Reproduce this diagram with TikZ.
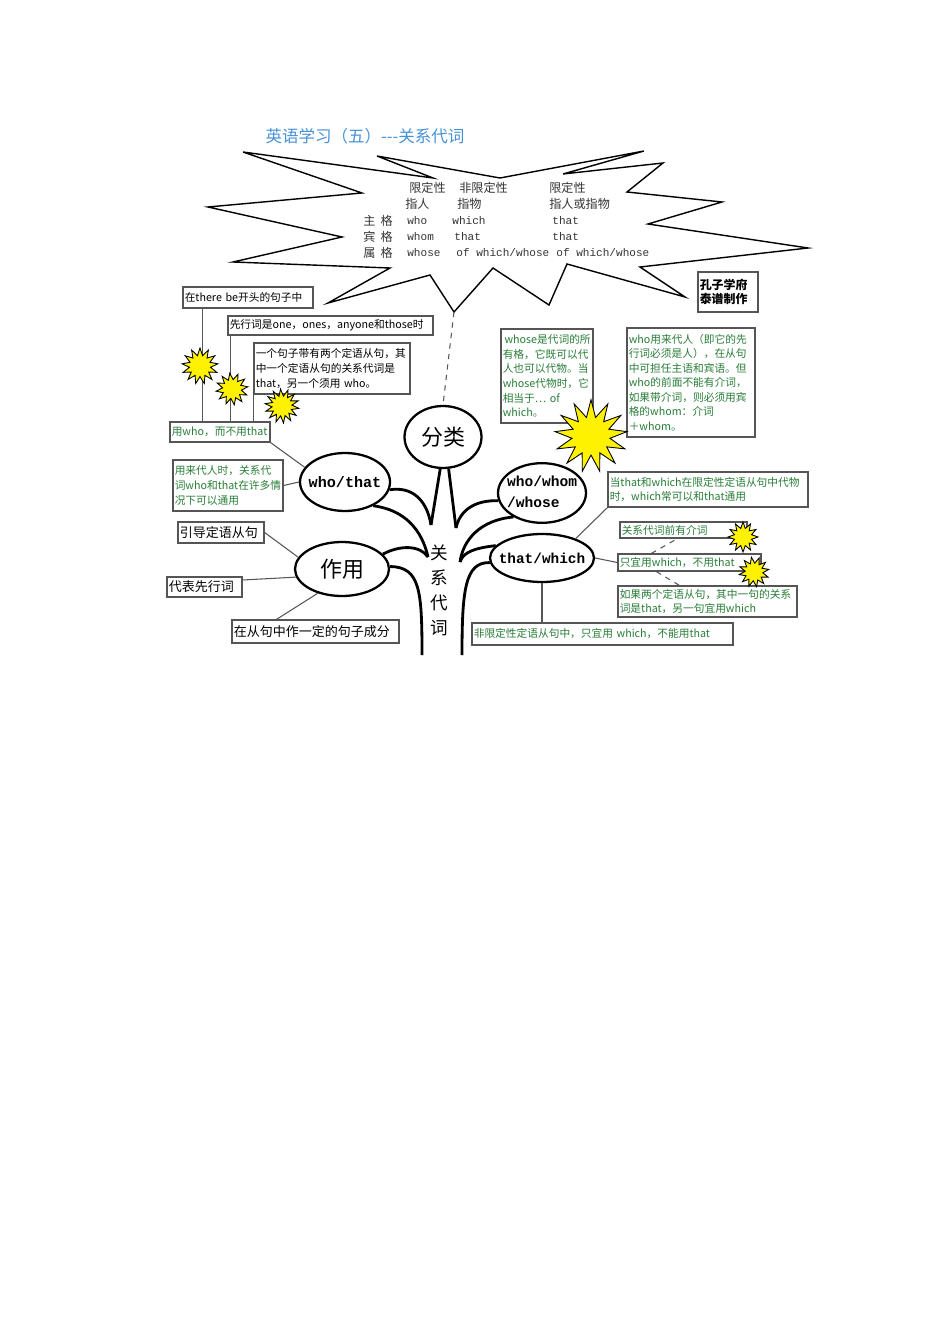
\documentclass[tikz,border=0pt]{standalone}
\usepackage{fontspec}
\setmainfont{Noto Sans CJK SC}
\setmonofont{Liberation Mono}
\usetikzlibrary{shapes.geometric, positioning}
\definecolor{notegreen}{RGB}{40,125,55}
\definecolor{titleblue}{RGB}{70,145,215}
\definecolor{boxgray}{RGB}{85,85,85}
\tikzstyle{note} = [rectangle, draw=boxgray, line width=0.7pt, fill=white, inner sep=1pt, align=left, font=\fontsize{6.1}{8.3}\selectfont]
\tikzstyle{greennote} = [note, text=notegreen]
\tikzstyle{bignote} = [note, font=\fontsize{7.4}{9}\selectfont]
\tikzstyle{bubble} = [ellipse, draw=black, line width=1.3pt, fill=white, inner sep=0pt]
\tikzstyle{codeword} = [bubble, font=\ttfamily\bfseries\fontsize{8.6}{10.5}\selectfont]
\tikzstyle{spark} = [star, star point ratio=1.7, draw=black, line width=0.5pt, fill=yellow, inner sep=0pt]
\tikzstyle{branch} = [line width=1.6pt]
\tikzstyle{link} = [draw=boxgray, line width=0.6pt]
\tikzstyle{cell} = [anchor=west, inner sep=0pt, text=black!80, font=\fontsize{6.9}{8}\selectfont]
\tikzstyle{monocell} = [cell, font=\ttfamily\fontsize{6.3}{8}\selectfont]
\newcommand{\slimtext}[1]{\makebox[0pt]{#1}}

\begin{document}
\begin{tikzpicture}[x=0.02cm, y=-0.02cm]
    \useasboundingbox (0,0) rectangle (950,1344);

    \node[font=\fontsize{9.4}{11}\selectfont, text=titleblue] (title) at (365,136) {英语学习（五）-{}-{}-关系代词};

    % the starburst table
    \draw[line width=0.8pt] (243,152) -- (433,178) -- (377,156) -- (500,178) -- (644,151) -- (563,174) -- (663,163)
        -- (627,192) -- (722,202) -- (648,224) -- (808,248) -- (640,267) -- (685,297) -- (567,264) -- (549,305)
        -- (493,268) -- (454,312) -- (430,275) -- (328,303) -- (390,268) -- (233,262) -- (342,237) -- (208,207)
        -- (362,193) -- cycle;
    \coordinate (burstTip) at (454,312);
    \node[cell] (headA) at (409,188) {限定性};
    \node[cell] (headB) at (459,188) {非限定性};
    \node[cell] (headC) at (549,188) {限定性};
    \node[cell] (kindA) at (405,204) {指人};
    \node[cell] (kindB) at (457,204) {指物};
    \node[cell] (kindC) at (549,204) {指人或指物};
    \node[cell] (caseSubj) at (363,221) {主\hspace{3pt}格};
    \node[monocell] (subjA) at (407,221) {who};
    \node[monocell] (subjB) at (452,221) {which};
    \node[monocell] (subjC) at (552,221) {that};
    \node[cell] (caseObj) at (363,237) {宾\hspace{3pt}格};
    \node[monocell] (objA) at (407,237) {whom};
    \node[monocell] (objB) at (454,237) {that};
    \node[monocell] (objC) at (552,237) {that};
    \node[cell] (casePoss) at (363,253) {属\hspace{3pt}格};
    \node[monocell] (possA) at (407,253) {whose};
    \node[monocell] (possB) at (456,253) {of which/whose};
    \node[monocell] (possC) at (556,253) {of which/whose};
    \node[note, font=\bfseries\fontsize{6.8}{7.6}\selectfont, text width=1.13cm, minimum height=0.8cm] (credit) at (728,292) {孔子学府\\泰谱制作};

    % left notes
    \node[note, text width=2.53cm, minimum height=0.42cm] (boxA) at (248,297.5) {在there be开头的句子中};
    \node[note, text width=4.03cm, minimum height=0.38cm] (boxB) at (330.5,325.5) {先行词是one，ones，anyone和those时};
    \node[note, text width=3.05cm, minimum height=1.02cm] (boxC) at (332,368.5) {一个句子带有两个定语从句，其\\中一个定语从句的关系代词是\\that，另一个须用 who。};
    \node[greennote, text width=1.93cm, minimum height=0.4cm] (boxD) at (220,432) {用who，而不用that};
    \node[greennote, text width=2.13cm, minimum height=1.02cm] (boxE) at (228,485.5) {用来代人时，关系代\\词who和that在许多情\\况下可以通用};
    \node[bignote, text width=1.65cm, minimum height=0.42cm] (boxF) at (221,532.5) {引导定语从句};
    \node[bignote, text width=1.43cm, minimum height=0.4cm] (boxG) at (204.5,587) {代表先行词};
    \node[bignote, text width=3.27cm, minimum height=0.46cm] (boxH) at (315.5,631.5) {在从句中作一定的句子成分};

    % right notes
    \node[greennote, text width=1.77cm, minimum height=1.88cm] (boxI) at (547,376) {\,whose是代词的所\\有格，它既可以代\\人也可以代物。当\\whose代物时，它\\相当于… of\\which。};
    \node[greennote, text width=2.49cm, minimum height=2.18cm] (boxJ) at (691,382.5) {who用来代人（即它的先\\行词必须是人），在从句\\中可担任主语和宾语。但\\who的前面不能有介词，\\如果带介词，则必须用宾\\格的whom：介词\\＋whom。};
    \node[greennote, text width=3.93cm, minimum height=0.7cm] (boxK) at (708,489.5) {当that和which在限定性定语从句中代物\\时，which常可以和that通用};
    \node[greennote, text width=2.47cm, minimum height=0.32cm] (boxL) at (683.5,530) {关系代词前有介词};
    \node[greennote, text width=2.79cm, minimum height=0.34cm] (boxM) at (689.5,562.5) {只宜用which，不用that};
    \node[greennote, text width=3.51cm, minimum height=0.62cm] (boxN) at (707.5,601.5) {如果两个定语从句，其中一句的关系\\词是that，另一句宜用which};
    \node[greennote, text width=5.15cm, minimum height=0.44cm] (boxO) at (602.5,634) {非限定性定语从句中，只宜用 which，不能用that};

    % ellipses
    \node[bubble, minimum width=1.54cm, minimum height=1.24cm, font=\fontsize{12.5}{14}\selectfont] (fenlei) at (443,437) {分类};
    \node[codeword, minimum width=1.8cm, minimum height=1.16cm] (whothat) at (345,482) {\slimtext{who/that}};
    \node[bubble, minimum width=1.88cm, minimum height=1.08cm, font=\fontsize{12.5}{14}\selectfont] (zuoyong) at (342,569) {作用};
    \node[codeword, minimum width=1.76cm, minimum height=1.16cm, font=\ttfamily\bfseries\fontsize{8.3}{12}\selectfont] (whowhom) at (542,493) {\slimtext{\begin{tabular}{@{}l@{}}who/whom\\/whose\end{tabular}}};
    \node[codeword, minimum width=2.08cm, minimum height=0.96cm, font=\ttfamily\bfseries\fontsize{8.2}{10}\selectfont] (thatwhich) at (542,558) {\slimtext{that/which}};
    \node[font=\fontsize{10}{14.2}\selectfont, align=center] (trunkword) at (439,590) {关\\系\\代\\词};

    % thin connectors
    \coordinate (dropA) at ([xshift=0.4cm]boxA.south west);
    \coordinate (dropB) at ([xshift=0.06cm]boxB.south west);
    \coordinate (dropC) at (boxC.south west);
    \draw[link] (dropA) -- (dropA |- boxD.north);
    \draw[link] (dropB) -- (dropB |- boxD.north);
    \draw[link] (dropC) -- (dropC |- boxD.north);
    \draw[link] (boxD.south east) -- (whothat.160);
    \draw[link] (boxE.east) -- (whothat.west);
    \draw[link] (boxF.east) -- (zuoyong.165);
    \draw[link] ([yshift=0.14cm]boxG.east) -- (zuoyong.190);
    \draw[link] ([xshift=-0.78cm]boxH.north) -- (zuoyong.225);
    \draw[link] (boxK.south west) -- (thatwhich.30);
    \draw[link] (thatwhich.east) -- (boxM.west);
    \draw[link, dashed] ([xshift=0.68cm]boxM.north west) -- ([xshift=1.16cm]boxL.south west);
    \draw[link, dashed] ([xshift=0.78cm]boxM.south west) -- ([xshift=1.24cm]boxN.north west);
    \draw[link] (thatwhich.south) -- (thatwhich.south |- boxO.north);
    \draw[link, dashed] (burstTip) -- (fenlei.north);

    % trunk and branches
    \coordinate (knotL) at (431,525);
    \coordinate (knotL2) at (428,557);
    \coordinate (rootL) at (422,655);
    \coordinate (knotR) at (456,528);
    \coordinate (knotR2) at (460,562);
    \coordinate (rootR) at (462,655);
    \draw[branch] (fenlei.265) -- (knotL);
    \draw[branch] (fenlei.280) -- (knotR);
    \draw[branch] (whothat.-10) .. controls (412,486) and (427,500) .. (knotL);
    \draw[branch] (whothat.-40) .. controls (405,510) and (422,530) .. (knotL2);
    \draw[branch] (zuoyong.20) .. controls (400,545) and (420,545) .. (knotL2);
    \draw[branch] (zuoyong.3) .. controls (420,567) and (422,590) .. (rootL);
    \draw[branch] (whowhom.190) .. controls (475,500) and (460,510) .. (knotR);
    \draw[branch] (whowhom.220) .. controls (480,520) and (463,540) .. (knotR2);
    \draw[branch] (thatwhich.165) .. controls (475,548) and (463,552) .. (knotR2);
    \draw[branch] (thatwhich.185) .. controls (465,562) and (462,590) .. (rootR);

    % stars
    \node[spark, star points=13, minimum size=0.72cm] (sparkA) at (200,366) {};
    \node[spark, star points=12, minimum size=0.64cm, rotate=8] (sparkB) at (232,389) {};
    \node[spark, star points=14, minimum size=0.68cm, rotate=5] (sparkC) at (282,406) {};
    \node[spark, star points=13, star point ratio=1.9, minimum size=1.45cm] (sparkBig) at (591,436) {};
    \node[spark, star points=12, minimum size=0.6cm] (sparkL) at (743,537) {};
    \node[spark, star points=12, minimum size=0.6cm, rotate=10] (sparkM) at (754,572) {};
\end{tikzpicture}
\end{document}
